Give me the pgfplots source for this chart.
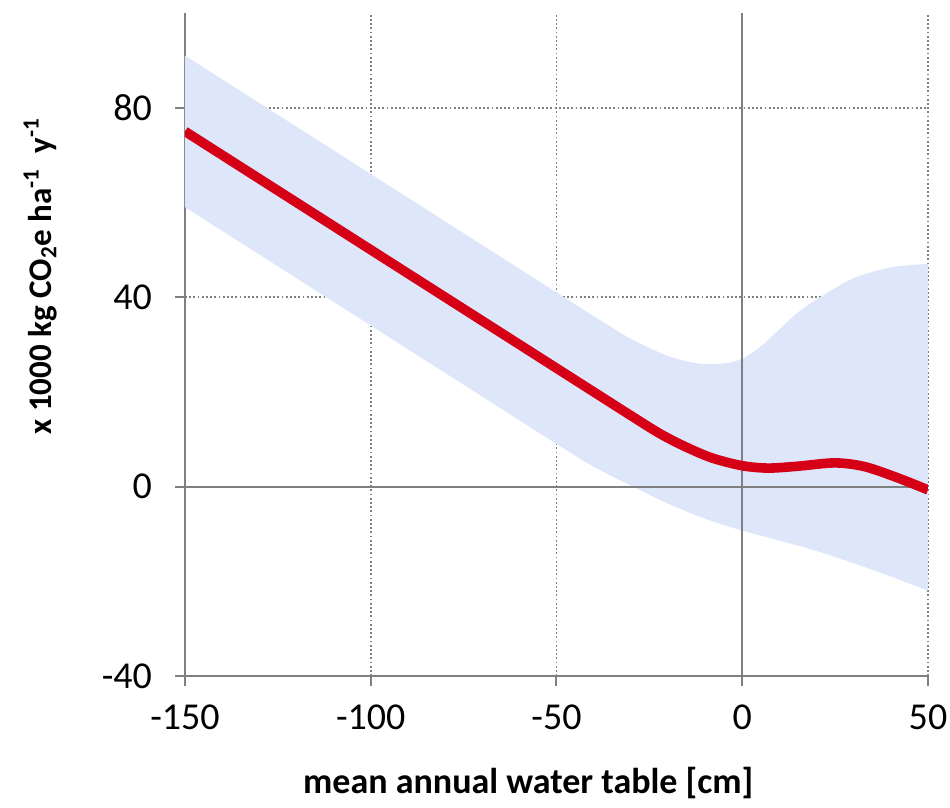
\documentclass[border=0pt]{standalone}
\usepackage{pgfplots}
\pgfplotsset{compat=1.18}
\usepgfplotslibrary{fillbetween}
\usepackage{fontspec}
\setmainfont{Carlito}
\definecolor{band}{RGB}{222,231,250}
\definecolor{cred}{RGB}{214,0,22}
\definecolor{axgray}{RGB}{128,128,128}
\begin{document}
\begin{tikzpicture}
\begin{axis}[
 set layers,
 scale only axis,
 width=371.5pt, height=331.5pt,
 xmin=-150, xmax=50, ymin=-40, ymax=100,
 xtick={-150,-100,-50,0,50},
 ytick={-40,0,40,80},
 axis x line*=bottom, axis y line*=left,
 axis line style={axgray, line width=1pt, -},
 tick style={axgray, line width=1pt},
 tick align=outside,
 major tick length=5pt,
 grid=major,
 major grid style={axgray, line width=0.9pt, dash pattern=on 0.9pt off 1.2pt},
 /pgf/number format/assume math mode=true,
 ticklabel style={font=\fontsize{19}{22}\selectfont},
 xticklabel style={yshift=-6pt},
 yticklabel style={xshift=-8pt},
 xlabel={mean annual water table [cm]},
 ylabel={x 1000 kg CO\textsubscript{2}e ha\textsuperscript{-1}\ \ y\textsuperscript{-1}},
 xlabel style={font=\bfseries\fontsize{18}{22}\selectfont, at={(axis description cs:0.462,-0.161)}, anchor=center, inner sep=0pt},
 ylabel style={font=\bfseries\fontsize{16.5}{20}\selectfont, at={(axis description cs:-0.195,0.603)}, anchor=center, rotate=0, inner sep=0pt},
]
\addplot[name path=up, draw=none, smooth] coordinates {
(-150,91) (-125,78.5) (-100,66) (-75,53.5) (-50,41) (-40,36) (-30,31.2) (-20,27.6) (-12,26) (-5,26) (0,27) (5,29.6) (10,33.2) (15,36.8) (21,40) (30,44) (40,46.3) (50,47)};
\addplot[name path=lo, draw=none, smooth] coordinates {
(-150,59) (-125,46.5) (-100,34) (-75,21.5) (-50,9) (-40,4.2) (-30,0.2) (-20,-3.6) (-10,-6.8) (0,-9.3) (10,-11.4) (20,-13.6) (30,-16.2) (40,-19) (50,-22)};
\addplot[band, on layer=axis background] fill between[of=up and lo];
\addplot[axgray, line width=1pt] coordinates {(0,-40) (0,100)};
\addplot[axgray, line width=1pt] coordinates {(-150,0) (50,0)};
\addplot[cred, line width=4.8pt, smooth] coordinates {
(-150,75) (-125,62.5) (-100,50) (-75,37.5) (-50,25) (-40,20) (-30,15) (-22,11.1) (-15,8.3) (-8,6) (0,4.4) (7,3.9) (15,4.3) (25,5) (33,4.2) (42,1.8) (50,-0.7)};
\end{axis}
\pgfresetboundingbox
\path[use as bounding box] ([xshift=-92.5pt, yshift=-66pt]current axis.south west) rectangle ([xshift=11pt, yshift=6.5pt]current axis.north east);
\end{tikzpicture}
\end{document}
